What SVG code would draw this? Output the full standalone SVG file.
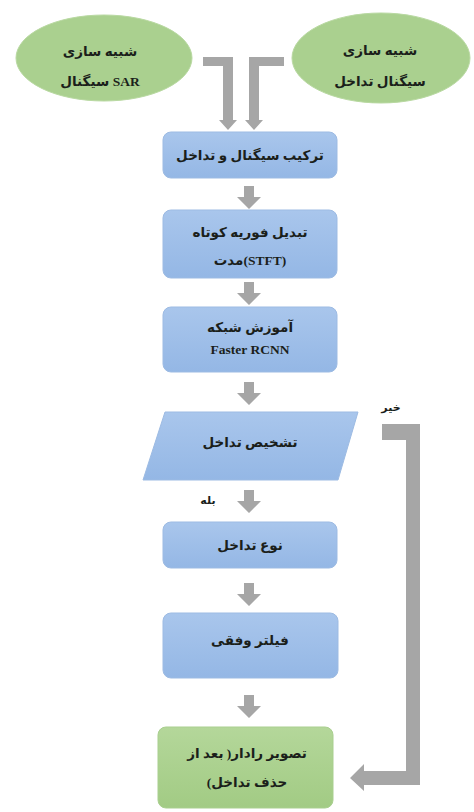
<svg xmlns="http://www.w3.org/2000/svg" width="474" height="812" viewBox="0 0 474 812">
<defs>
<linearGradient id="gBlue" x1="0" y1="0" x2="0" y2="1">
<stop offset="0" stop-color="#a9c6ec"/>
<stop offset="1" stop-color="#94b7e5"/>
</linearGradient>
<linearGradient id="gGreen" x1="0" y1="0" x2="0" y2="1">
<stop offset="0" stop-color="#b4d79a"/>
<stop offset="1" stop-color="#a2cb84"/>
</linearGradient>
<path id="dn" d="M-5,0 H5 V11 H12 L0,23 L-12,11 H-5 Z"/>
<style>
.box{fill:url(#gBlue);stroke:#9dbbe3;stroke-width:1}
.grn{fill:url(#gGreen);stroke:#a9cf8f;stroke-width:1}
.ell{fill:#aad08f;stroke:#b9d9a2;stroke-width:1}
.arr{fill:#a6a6a6}
text{font-family:"Liberation Serif","DejaVu Sans",serif;font-weight:bold;font-size:13.5px;fill:#1b1f1b;text-anchor:middle;dominant-baseline:central}
.rtl{direction:rtl;unicode-bidi:embed}
.sm{font-size:11px}
</style>
</defs>
<g id="sar">
<ellipse class="ell" cx="104" cy="58" rx="88" ry="43"/>
<text x="100" y="51" class="rtl">شبیه سازی</text>
<text x="100" y="81">سیگنال SAR</text>
</g>
<g id="interf">
<ellipse class="ell" cx="381" cy="58" rx="89" ry="45"/>
<text x="380" y="50" class="rtl">شبیه سازی</text>
<text x="380" y="81" class="rtl">سیگنال تداخل</text>
</g>
<g id="combine">
<rect class="box" x="163" y="132" width="174" height="46" rx="8"/>
<text x="250" y="155" class="rtl">ترکیب سیگنال و تداخل</text>
</g>
<g id="stft">
<rect class="box" x="163" y="210" width="174" height="68" rx="8"/>
<text x="250" y="232" class="rtl">تبدیل فوریه کوتاه</text>
<text x="250" y="260">مدت(STFT)</text>
</g>
<g id="train">
<rect class="box" x="163" y="307" width="174" height="65" rx="8"/>
<text x="250" y="327" class="rtl">آموزش شبکه</text>
<text x="250" y="349">Faster RCNN</text>
</g>
<g id="detect">
<polygon class="box" points="165,412 358,412 338,480 143,480"/>
<text x="250" y="442" class="rtl">تشخیص تداخل</text>
</g>
<g id="type">
<rect class="box" x="163" y="522" width="174" height="46" rx="8"/>
<text x="250" y="545" class="rtl">نوع تداخل</text>
</g>
<g id="filter">
<rect class="box" x="163" y="613" width="175" height="65" rx="8"/>
<text x="250" y="640" class="rtl">فیلتر وفقی</text>
</g>
<g id="result">
<rect class="grn" x="158" y="727" width="175" height="81" rx="8"/>
<text x="247" y="753" class="rtl">تصویر رادار( بعد از</text>
<text x="247" y="782" class="rtl">حذف تداخل)</text>
</g>
<g id="connectors">
<path class="arr" d="M203,57 H233 V120 H237 L228,130 L219,120 H223 V66 H203 Z"/>
<path class="arr" d="M284,57 H249 V120 H245 L254,130 L263,120 H259 V66 H284 Z"/>
<use href="#dn" class="arr" x="249" y="186"/>
<use href="#dn" class="arr" x="249" y="282"/>
<use href="#dn" class="arr" x="249" y="382"/>
<use href="#dn" class="arr" x="249" y="490"/>
<use href="#dn" class="arr" x="249" y="583"/>
<use href="#dn" class="arr" x="249" y="695"/>
<path class="arr" d="M382,424 H420 V785 H364 V791 L350,778 L364,764 V771 H406 V440 H382 Z"/>
<text x="391" y="407" class="rtl sm">خیر</text>
<text x="208" y="500" class="rtl sm">بله</text>
</g>
</svg>
